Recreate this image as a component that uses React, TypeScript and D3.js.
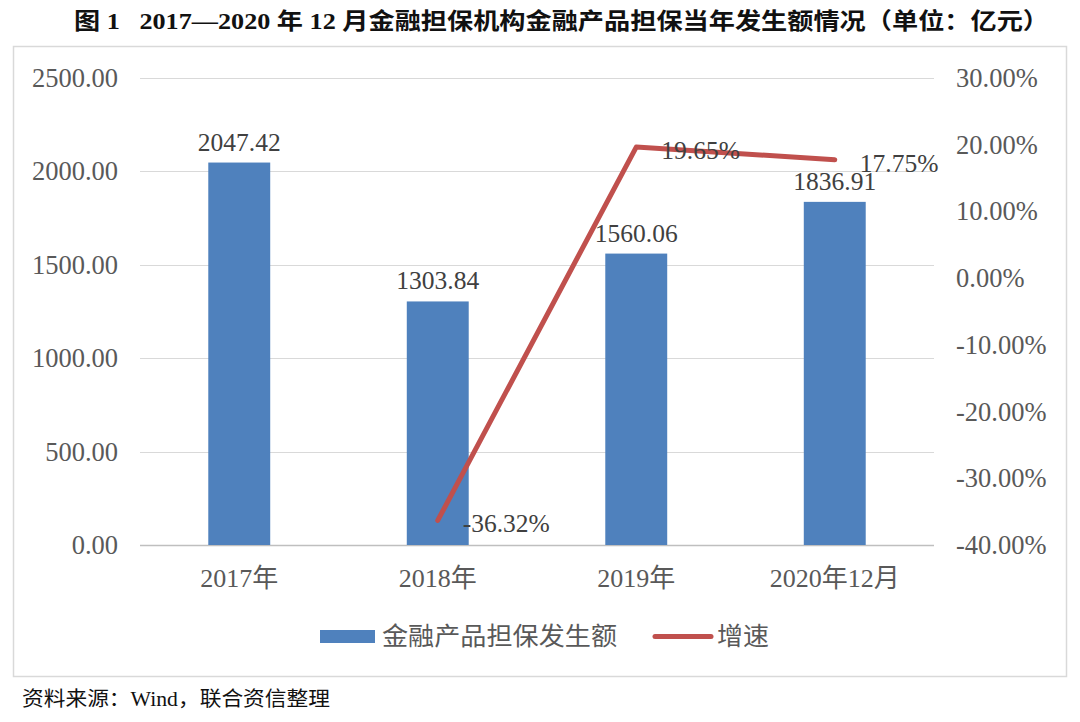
import React, { useEffect, useRef } from "react";
import * as d3 from "d3";

const categories = ["2017年", "2018年", "2019年", "2020年12月"];
const amounts = [2047.42, 1303.84, 1560.06, 1836.91];
const growth = [null, -36.32, 19.65, 17.75];
const leftTicks = [0, 500, 1000, 1500, 2000, 2500];
const rightTicks = [-40, -30, -20, -10, 0, 10, 20, 30];
const title = "图 1   2017—2020 年 12 月金融担保机构金融产品担保当年发生额情况（单位：亿元）";
const source = "资料来源：Wind，联合资信整理";
const barName = "金融产品担保发生额";
const lineName = "增速";

const BLUE = "#4F81BD";
const RED = "#C0504D";
const GRAY = "#595959";
const SERIF = "'Liberation Serif', 'Noto Sans CJK SC', serif";
const SANS = "'Noto Sans CJK SC', sans-serif";

// plain hyphen for negatives, like the original
const fmt = (v: number) => v.toFixed(2);

export default function App() {
  const ref = useRef<SVGSVGElement>(null);

  useEffect(() => {
    const svg = d3.select(ref.current);
    svg.selectAll("*").remove();

    const left = 140, right = 934, top = 78, bottom = 545;

    const x = d3.scaleBand().domain(categories).range([left, right])
      .paddingInner(0.688).paddingOuter(0.344);
    const y = d3.scaleLinear().domain([0, 2500]).range([bottom, top]);
    const y2 = d3.scaleLinear().domain([-40, 30]).range([bottom, top]);

    // title
    svg.append("text").attr("x", 74).attr("y", 29)
      .style("white-space", "pre")
      .attr("font-family", SERIF).attr("font-weight", 600).attr("font-size", 23)
      .attr("fill", "#111").attr("textLength", 975).attr("lengthAdjust", "spacingAndGlyphs")
      .text(title);

    // frame
    svg.append("rect").attr("x", 13.5).attr("y", 46.5).attr("width", 1053).attr("height", 630)
      .attr("fill", "white").attr("stroke", "#D9D9D9").attr("stroke-width", 1.5);

    // gridlines
    svg.append("g").selectAll("line").data(leftTicks).join("line")
      .attr("x1", left).attr("x2", right)
      .attr("y1", d => Math.round(y(d)) + 0.5).attr("y2", d => Math.round(y(d)) + 0.5)
      .attr("stroke", d => d === 0 ? "#BFBFBF" : "#D9D9D9").attr("stroke-width", d => d === 0 ? 1.5 : 1);

    // left axis labels
    svg.append("g").selectAll("text").data(leftTicks).join("text")
      .attr("x", 118).attr("y", d => y(d) + 9).attr("text-anchor", "end")
      .attr("font-family", SERIF).attr("font-size", 26.5).attr("fill", GRAY)
      .text(d => fmt(d));

    // right axis labels
    svg.append("g").selectAll("text").data(rightTicks).join("text")
      .attr("x", 956).attr("y", d => y2(d) + 9)
      .attr("font-family", SERIF).attr("font-size", 26.5).attr("fill", GRAY)
      .text(d => fmt(d) + "%");

    // category labels
    svg.append("g").selectAll("text").data(categories).join("text")
      .attr("x", d => (x(d) as number) + x.bandwidth() / 2).attr("y", 587)
      .attr("text-anchor", "middle")
      .attr("font-family", SERIF).attr("font-size", 26).attr("fill", GRAY)
      .text(d => d);

    // bars
    svg.append("g").selectAll("rect").data(amounts).join("rect")
      .attr("x", (d, i) => x(categories[i]) as number)
      .attr("width", x.bandwidth())
      .attr("y", d => y(d)).attr("height", d => bottom - y(d))
      .attr("fill", BLUE);

    // bar labels
    svg.append("g").selectAll("text").data(amounts).join("text")
      .attr("x", (d, i) => (x(categories[i]) as number) + x.bandwidth() / 2)
      .attr("y", d => y(d) - 12).attr("text-anchor", "middle")
      .attr("font-family", SERIF).attr("font-size", 25.5).attr("fill", "#404040")
      .text(d => fmt(d));

    // line
    const pts = growth.map((g, i) => ({ g, c: categories[i] })).filter(p => p.g !== null) as { g: number; c: string }[];
    const line = d3.line<{ g: number; c: string }>()
      .x(p => (x(p.c) as number) + x.bandwidth() / 2)
      .y(p => y2(p.g));
    svg.append("path").datum(pts).attr("d", line)
      .attr("fill", "none").attr("stroke", RED).attr("stroke-width", 5)
      .attr("stroke-linecap", "round").attr("stroke-linejoin", "round");

    svg.append("g").selectAll("text").data(pts).join("text")
      .attr("x", p => (x(p.c) as number) + x.bandwidth() / 2 + 25)
      .attr("y", p => y2(p.g) + 12)
      .attr("font-family", SERIF).attr("font-size", 25.5).attr("fill", "#404040")
      .text(p => fmt(p.g) + "%");

    // legend
    const lg = svg.append("g").attr("font-family", SANS).attr("font-size", 25).attr("fill", GRAY);
    lg.append("rect").attr("x", 320).attr("y", 630).attr("width", 55).attr("height", 13).attr("fill", BLUE);
    lg.append("text").attr("x", 382).attr("y", 645).attr("textLength", 235).attr("lengthAdjust", "spacingAndGlyphs").text(barName);
    lg.append("line").attr("x1", 655).attr("x2", 711).attr("y1", 636.5).attr("y2", 636.5)
      .attr("stroke", RED).attr("stroke-width", 5).attr("stroke-linecap", "round");
    lg.append("text").attr("x", 717).attr("y", 645).attr("textLength", 52).attr("lengthAdjust", "spacingAndGlyphs").text(lineName);

    // source
    svg.append("text").attr("x", 22).attr("y", 706)
      .attr("font-family", SERIF).attr("font-size", 20).attr("fill", "#111")
      .attr("textLength", 308).attr("lengthAdjust", "spacingAndGlyphs")
      .text(source);
  }, []);

  return (
    <svg ref={ref} width={1080} height={722}
      style={{ position: "absolute", left: 0, top: 0, background: "white" }} />
  );
}
